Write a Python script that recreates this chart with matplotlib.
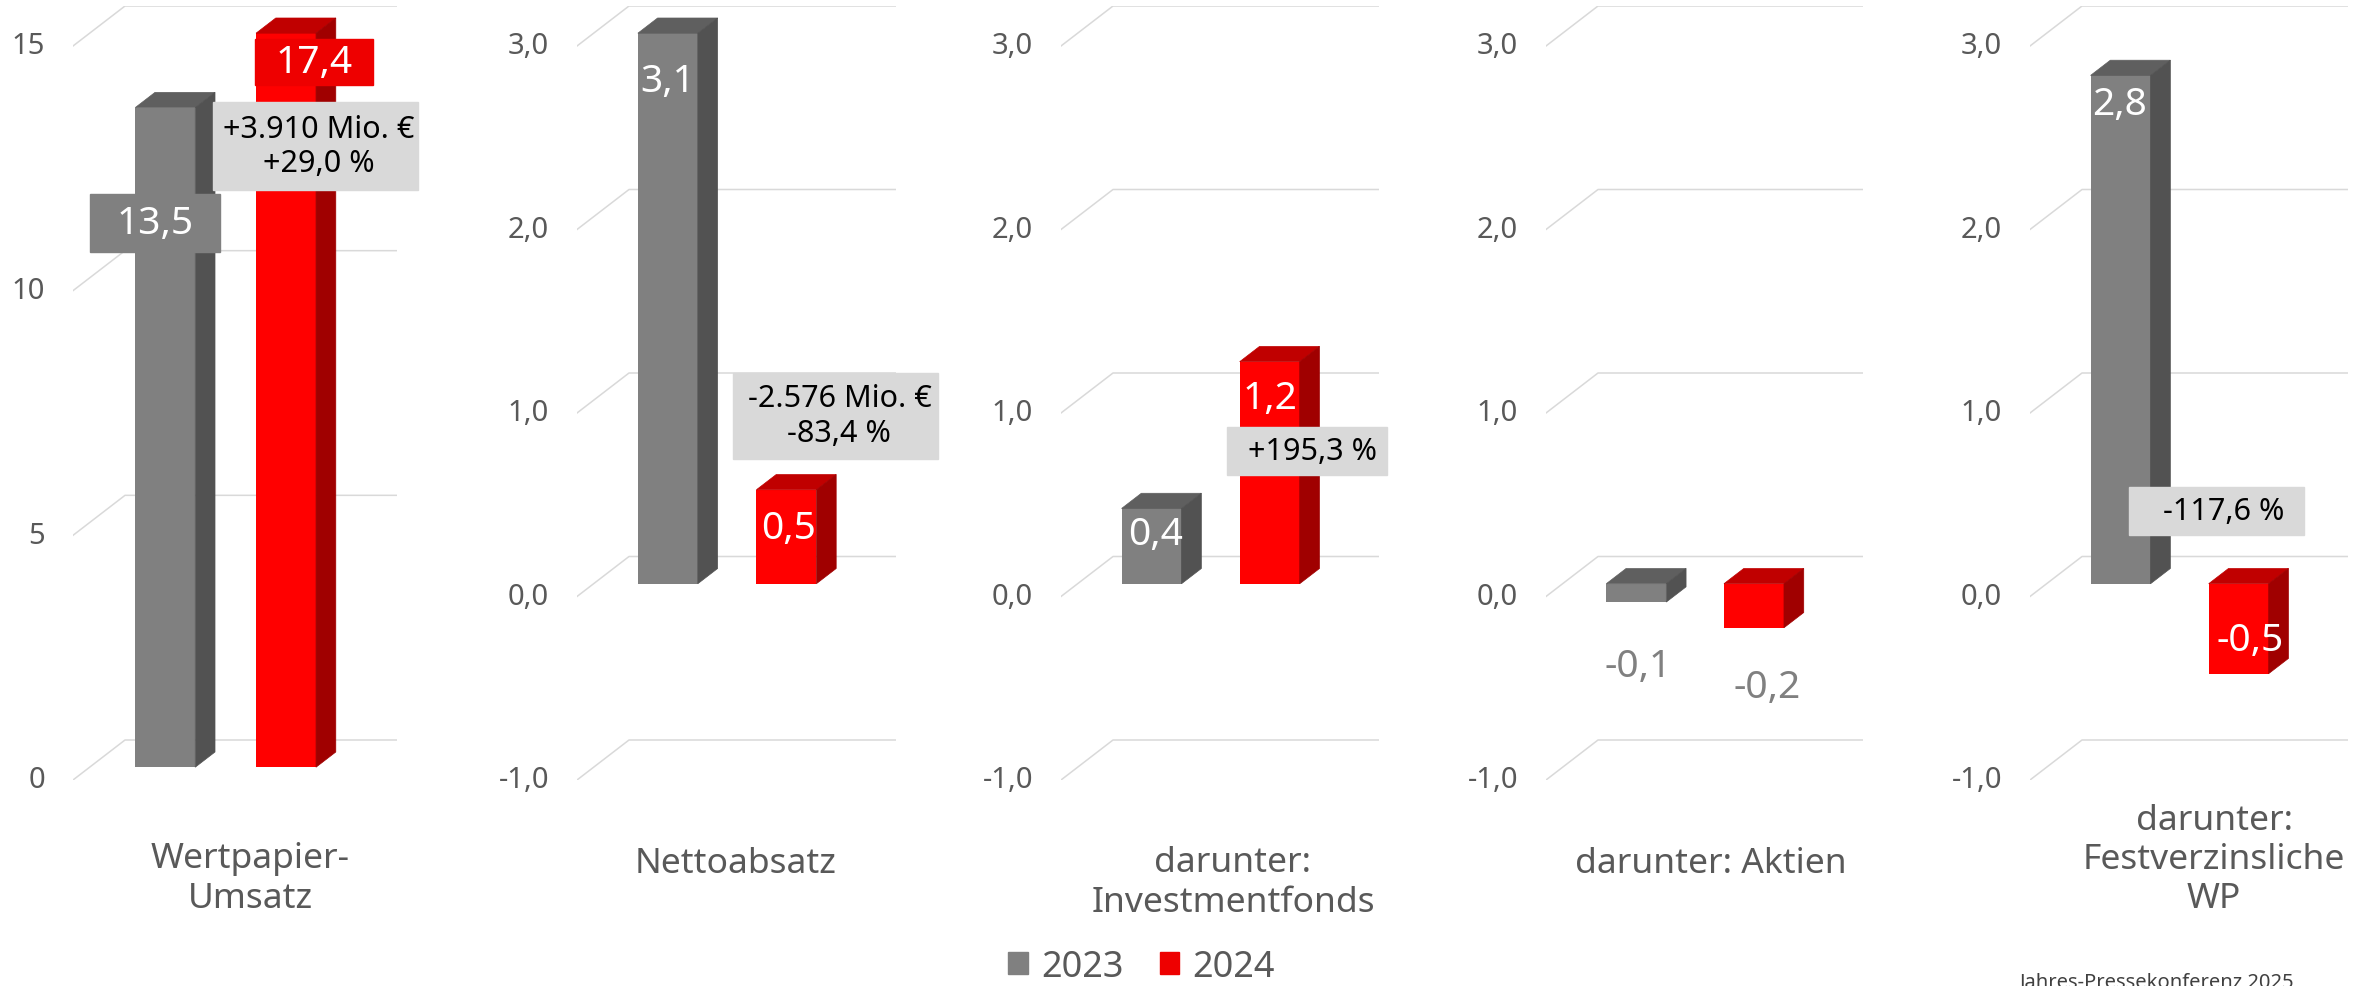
import numpy as np
import matplotlib.pyplot as plt
from matplotlib.patches import Polygon, Rectangle, Patch

plt.rcParams['font.family'] = ['Noto Sans', 'DejaVu Sans']

# Daten (Mrd. EUR)
categories = ['Wertpapier-\nUmsatz', 'Nettoabsatz', 'darunter:\nInvestmentfonds',
              'darunter: Aktien', 'darunter:\nFestverzinsliche\nWP']
series = ['2023', '2024']
values_2023 = [13.48, 3.088, 0.41, -0.10, 2.77]
values_2024 = [17.39, 0.512, 1.21, -0.24, -0.49]
changes = ['+3.910 Mio. €\n+29,0 %', '-2.576 Mio. €\n-83,4 %', '+195,3 %', '', '-117,6 %']
y_limits = [(0, 15), (-1, 3), (-1, 3), (-1, 3), (-1, 3)]
y_ticks = [[0, 5, 10, 15]] + [[-1, 0, 1, 2, 3]] * 4

GRAY = ('#808080', '#5f5f5f', '#525252')
RED = ('#ff0000', '#c00000', '#a00000')
TXT = '#595959'

W, H = 2357, 987
fig = plt.figure(figsize=(W / 100, H / 100), dpi=100)

# layout (pixel)
left = [73, 577, 1061, 1546, 2030]
width = [272, 267, 266, 265, 266]
top, bottom = 47, 781
DX, DY = 52, 40          # 3D-Tiefe
f0, f1 = 0.32, 0.70      # Saeulen liegen in der Mitte der Tiefe
pad = 0.626
bar_px = 60

lab_off = [[(-10, -115), (28, -29)], [(0, -48), (2, -38)], [(4, -26), (0, -36)],
           [(2, -64), (13, -59)], [(-1, -29), (11, 34)]]
lab_box = [[(130, 58), (118, 46)], [None, None], [None, None], [None, None], [None, None]]
box_col = ['#808080', '#ee0000']
lab_col = [['white', 'white']] * 3 + [['#808080', '#808080']] + [['white', 'white']]
chg_off = [(29, -113), (49, 74), (37, -89), None, (-22, 163)]
chg_box = [(205, 88), (205, 86), (160, 48), None, (175, 48)]
chg_txt = [4, 4, 6, 0, 7]
cat_xy = [(250, 879), (736, 864), (1233, 883), (1711, 864), (2214, 860)]

for i in range(5):
    vmin, vmax = y_limits[i]
    ux = width[i] / (1 + 2 * pad)
    uy = (bottom - top) / (vmax - vmin)
    ddx, ddy = DX / ux, DY / uy
    ax = fig.add_axes([left[i] / W, 1 - bottom / H, (width[i] + DX) / W, (bottom - top + DY) / H])
    ax.set_xlim(-pad, 1 + pad + ddx)
    ax.set_ylim(vmin, vmax + ddy)
    ax.axis('off')

    x0, x1 = -pad, 1 + pad
    for t in y_ticks[i]:
        ax.plot([x0, x0 + ddx, x1 + ddx], [t, t + ddy, t + ddy], color='#d9d9d9', lw=1.1, zorder=1)
        lab = str(t) if i == 0 else f'{t:.1f}'.replace('.', ',')
        ax.text(x0 - 28 / ux, t, lab, ha='right', va='center', fontsize=21, color=TXT)

    bw = bar_px / ux
    ex, ey = (f1 - f0) * ddx, (f1 - f0) * ddy
    for j, (v, cols) in enumerate([(values_2023[i], GRAY), (values_2024[i], RED)]):
        vc = min(v, vmax)
        xc = j + f0 * ddx
        y0 = f0 * ddy
        ax.bar(xc, vc, bottom=y0, width=bw, color=cols[0], zorder=3)
        xl, xr = xc - bw / 2, xc + bw / 2
        lo, hi = min(vc, 0) + y0, max(vc, 0) + y0
        ax.add_patch(Polygon([(xl, hi), (xr, hi), (xr + ex, hi + ey), (xl + ex, hi + ey)],
                             closed=True, fc=cols[1], ec=cols[1], lw=0.5, zorder=3))
        ax.add_patch(Polygon([(xr, lo), (xr + ex, lo + ey), (xr + ex, hi + ey), (xr, hi)],
                             closed=True, fc=cols[2], ec=cols[2], lw=0.5, zorder=3))

        ay = vc + y0
        ox, oy = lab_off[i][j]
        tx, ty = xc + ox / ux, ay + oy / uy
        box = lab_box[i][j]
        if box:
            ax.add_patch(Rectangle((tx - box[0] / 2 / ux, ty - box[1] / 2 / uy), box[0] / ux, box[1] / uy,
                                   color=box_col[j], zorder=4))
        ax.text(tx, ty, f'{v:.1f}'.replace('.', ','), ha='center', va='center',
                fontsize=28, color=lab_col[i][j], zorder=5)

        if j == 1 and changes[i]:
            ox, oy = chg_off[i]
            bx, by = xc + ox / ux, ay + oy / uy
            bwid, bhei = chg_box[i]
            ax.add_patch(Rectangle((bx - bwid / 2 / ux, by - bhei / 2 / uy), bwid / ux, bhei / uy,
                                   color='#d9d9d9', zorder=4, clip_on=False))
            ax.text(bx + chg_txt[i] / ux, by, changes[i], ha='center', va='center',
                    fontsize=22, color='black', zorder=5)

    cx, cy = cat_xy[i]
    fig.text(cx / W, 1 - cy / H, categories[i], ha='center', va='center',
             fontsize=25.5, color=TXT)

handles = [Patch(color=GRAY[0]), Patch(color='#ee0000')]
fig.legend(handles, series, loc='center', bbox_to_anchor=(1141.5 / W, 1 - 968 / H), ncol=2,
           frameon=False, fontsize=26, handlelength=0.55, handleheight=0.55,
           handletextpad=0.35, columnspacing=1.0, labelcolor=TXT, borderpad=0)

fig.text(2157 / W, 1 - 973 / H, 'Jahres-Pressekonferenz 2025', ha='center', va='top',
         fontsize=14.5, color='#404040')

fig.savefig('out.png', dpi=100)
